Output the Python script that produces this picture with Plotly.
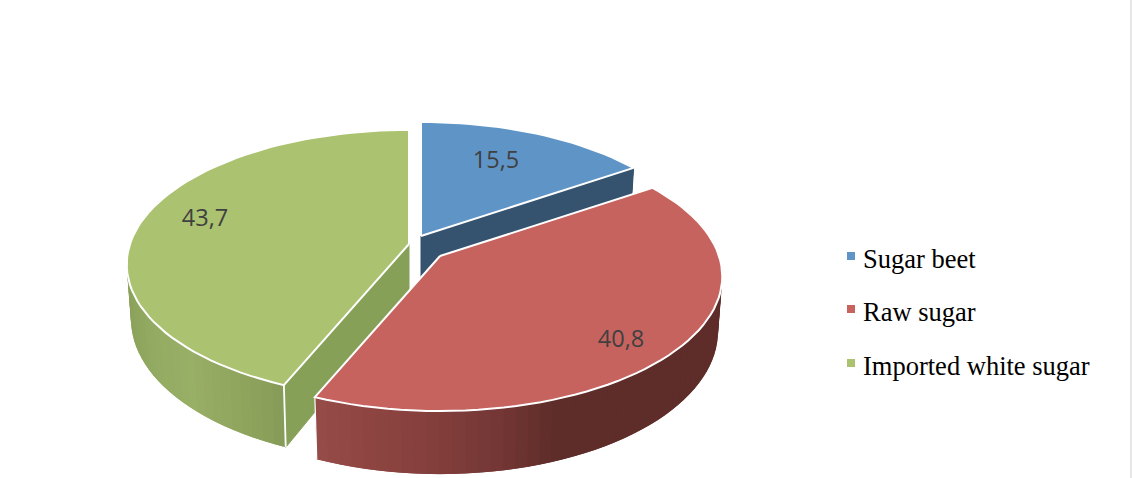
import math
import plotly.graph_objects as go

# ---- data ----
categories = ["Sugar beet", "Raw sugar", "Imported white sugar"]
values = [15.5, 40.8, 43.7]
label_text = ["15,5", "40,8", "43,7"]

# ---- styling / layout ----
top_colors = ["#5f95c6", "#c7635f", "#abc270"]
cut_colors = ["#35536f", None, "#87a058"]
apexes = [(421, 236), (440, 256), (409, 244)]      # exploded slice centres
label_pos = [(496, 162), (621, 341), (205, 220)]
legend_marker_y = [256, 309, 363]
legend_text_y = [261, 314, 368]
LEG_X = 851
LEG_TEXT_X = 863
RX, RY, K, DEPTH, BOT = 279.0, 131.5, 0.152, 53.5, 0.985
wall_stops = [
    [(400, "#35536f"), (700, "#35536f")],
    [(316, "#964b47"), (430, "#843f3c"), (500, "#743735"), (555, "#5e2c29"), (730, "#5e2c29")],
    [(126, "#8aa15b"), (150, "#93aa62"), (190, "#98af66"), (235, "#90a55e"), (290, "#859a56")],
]


def project(theta, apex, bottom=False):
    """Perspective projection of the tilted disc; theta clockwise from the top."""
    s, c = math.sin(theta), math.cos(theta)
    w = 1 + K * c
    if bottom:
        return apex[0] + BOT * RX * s / w, apex[1] + (DEPTH - RY * c) / w
    return apex[0] + RX * s / w, apex[1] - RY * c / w


def centre_bottom(apex):
    return apex[0], apex[1] + DEPTH


def hex_rgb(h):
    return tuple(int(h[i:i + 2], 16) for i in (1, 3, 5))


def wall_color(stops, x):
    if x <= stops[0][0]:
        return stops[0][1]
    for (x0, c0), (x1, c1) in zip(stops, stops[1:]):
        if x <= x1:
            t = (x - x0) / (x1 - x0)
            a, b = hex_rgb(c0), hex_rgb(c1)
            return "rgb(%d,%d,%d)" % tuple(round(p + (q - p) * t) for p, q in zip(a, b))
    return stops[-1][1]


total = sum(values)
bounds = []
acc = 0.0
for v in values:
    bounds.append((acc / total * 2 * math.pi, (acc + v) / total * 2 * math.pi))
    acc += v

fig = go.Figure()


def poly(xs, ys, fill, line=None, width=1, name=None):
    fig.add_trace(go.Scatter(
        x=xs, y=ys, mode="lines", fill="toself", fillcolor=fill,
        line=dict(color=line or fill, width=width), hoverinfo="skip",
        showlegend=False, name=name))


def path(xs, ys, color="#ffffff", width=1.8):
    fig.add_trace(go.Scatter(x=xs, y=ys, mode="lines", line=dict(color=color, width=width),
                             hoverinfo="skip", showlegend=False))


for i in (0, 2, 1):  # painter's order: red sits in front of blue
    a0, a1 = bounds[i]
    apex = apexes[i]
    n = max(8, int((a1 - a0) / (2 * math.pi) * 160))
    th = [a0 + (a1 - a0) * j / n for j in range(n + 1)]

    # flat face exposed by the explosion (leading end of the slice)
    if cut_colors[i]:
        cut_angle = a1 if i == 0 else a0
        p, q = project(cut_angle, apex), project(cut_angle, apex, True)
        cb = centre_bottom(apex)
        poly([apex[0], p[0], q[0], cb[0], apex[0]], [apex[1], p[1], q[1], cb[1], apex[1]], cut_colors[i])

    # rim wall as shaded strips, drawn so each strip overlaps the next to avoid seams
    order = range(n) if i != 2 else range(n - 1, -1, -1)
    for j in order:
        lo = max(0, j - 1) if i == 2 else j
        hi = j + 1 if i == 2 else min(n, j + 2)
        arc_t = th[lo:hi + 1]
        top = [project(t, apex) for t in arc_t]
        bot = [project(t, apex, True) for t in reversed(arc_t)]
        ring = top + bot + [top[0]]
        col = wall_color(wall_stops[i], (project(th[j], apex)[0] + project(th[j + 1], apex)[0]) / 2)
        fig.add_trace(go.Scatter(
            x=[p[0] for p in ring], y=[p[1] for p in ring], mode="lines", fill="toself",
            fillcolor=col, line=dict(width=0, color=col), hoverinfo="skip", showlegend=False))

    # white edges on the walls
    if i == 2:
        p, q = project(a0, apex), project(a0, apex, True)
        path([p[0], q[0]], [p[1], q[1]])
    if i == 1:
        p, q = project(a1, apex), project(a1, apex, True)
        path([p[0], q[0]], [p[1], q[1]], width=1.2)

    # top face
    arc = [project(t, apex) for t in th]
    xs = [apex[0]] + [p[0] for p in arc] + [apex[0]]
    ys = [apex[1]] + [p[1] for p in arc] + [apex[1]]
    poly(xs, ys, top_colors[i], line="#ffffff", width=2, name=categories[i])

# data labels
for i, txt in enumerate(label_text):
    fig.add_trace(go.Scatter(
        x=[label_pos[i][0]], y=[label_pos[i][1]], mode="text", text=[txt],
        textposition="middle center", hoverinfo="skip", showlegend=False,
        textfont=dict(family="Open Sans", size=23.5, color="#404040")))

# legend keys and names
for i, cat in enumerate(categories):
    fig.add_trace(go.Scatter(
        x=[LEG_X], y=[legend_marker_y[i]], mode="markers", hoverinfo="skip", showlegend=False,
        name=cat, marker=dict(symbol="square", size=8, color=top_colors[i])))
    fig.add_trace(go.Scatter(
        x=[LEG_TEXT_X], y=[legend_text_y[i]], mode="text", text=[cat],
        textposition="middle right", hoverinfo="skip", showlegend=False,
        textfont=dict(family="Liberation Serif", size=26.5, color="#000000")))

fig.update_layout(
    width=1132, height=478, margin=dict(l=0, r=0, t=0, b=0),
    paper_bgcolor="#ffffff", plot_bgcolor="#ffffff", showlegend=False,
    xaxis=dict(range=[0, 1132], visible=False, fixedrange=True),
    yaxis=dict(range=[478, 0], visible=False, fixedrange=True),
    shapes=[dict(type="rect", xref="x", yref="y", x0=1130, x1=1132, y0=0, y1=478,
                 fillcolor="#e6e6e6", line=dict(width=0), layer="below")],
)
fig.write_html("out.html", config={"displayModeBar": False},
               post_script="document.body.style.margin='0';")
